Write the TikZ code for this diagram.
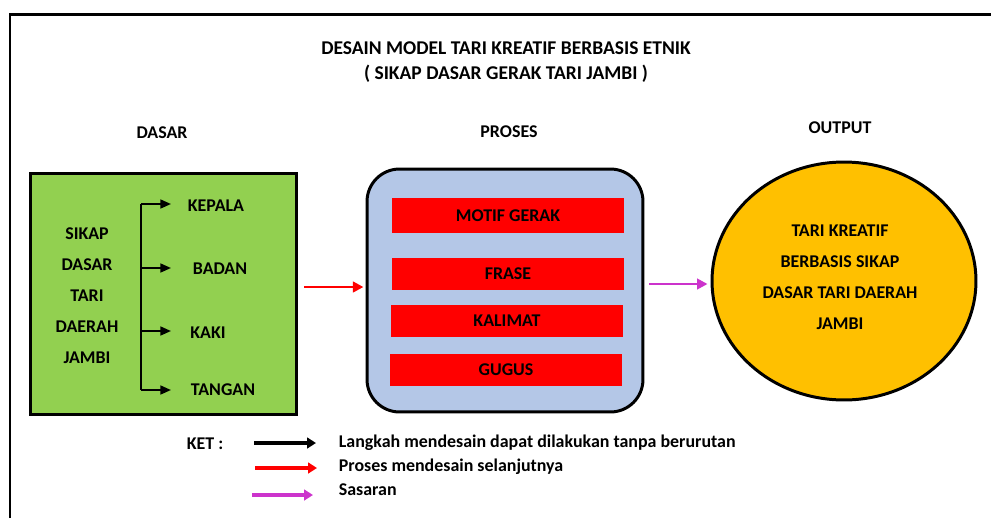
\documentclass[tikz,border=0pt]{standalone}
\usepackage{fontspec}
\setmainfont{Carlito}
\usetikzlibrary{arrows.meta, positioning, shapes.geometric}
\definecolor{hijau}{HTML}{92D050}
\definecolor{biru}{HTML}{B4C7E7}
\definecolor{emas}{HTML}{FFC000}
\definecolor{ungu}{HTML}{CC33CC}
\tikzset{every node/.append style={align=center, inner sep=2pt}}

\begin{document}
\begin{tikzpicture}[x=0.02cm, y=-0.02cm, font=\fontsize{10.2}{12}\selectfont\bfseries,
    box/.style={rectangle, draw=black, line width=1.7pt},
    bar/.style={rectangle, fill=red, minimum width=4.66cm, minimum height=0.64cm},
    baris/.style={font=\fontsize{10.2}{17.6}\selectfont\bfseries},
    hitam/.style={-{Triangle[length=6pt, width=5pt]}, line width=1.1pt, black},
    merah/.style={-{Triangle[length=6pt, width=6pt]}, line width=1.6pt, red},
    pink/.style={-{Triangle[length=6pt, width=6pt]}, line width=1.6pt, ungu}]
\useasboundingbox (0,0) rectangle (991,518);
% frame
\draw[line width=1.7pt] (10,518) -- (10,14.5) -- (991,14.5);

% title and column heads
\node[font=\fontsize{11.1}{13}\selectfont\bfseries] (judul) at (506,62) {DESAIN MODEL TARI KREATIF BERBASIS ETNIK\\[1.6pt]( SIKAP DASAR GERAK TARI JAMBI )};
\node (hdasar) at (162,133) {DASAR};
\node (hproses) at (509,132) {PROSES};
\node (houtput) at (840,128) {OUTPUT};

% dasar
\node[box, fill=hijau, minimum width=5.34cm, minimum height=4.84cm] (dasar) at (163.5,294) {};
\node[baris] (sikap) at (87,295.5) {SIKAP\\DASAR\\TARI\\DAERAH\\JAMBI};
\coordinate (s1) at (141,204);
\coordinate (s2) at (141,268);
\coordinate (s3) at (141,331);
\coordinate (s4) at (141,390);
\coordinate (t1) at (171,204);
\coordinate (t2) at (171,268);
\coordinate (t3) at (171,331);
\coordinate (t4) at (171,390);
\node (kepala) at (216,206) {KEPALA};
\node (badan) at (220,269) {BADAN};
\node (kaki) at (208,333) {KAKI};
\node (tangan) at (223,390) {TANGAN};
\draw[line width=1.1pt] (s1) -- (s4);
\foreach \i in {1,...,4}
  \draw[hitam] (s\i) -- (t\i);

% proses
\node[box, fill=biru, rounded corners=0.65cm, minimum width=5.52cm, minimum height=4.86cm] (proses) at (505,290.5) {};
\node[bar, minimum height=0.7cm] (motif) at (508,215.5) {MOTIF GERAK};
\node[bar] (frase) at (508,273.5) {FRASE};
\node[bar] (kalimat) at (507,320.5) {KALIMAT};
\node[bar] (gugus) at (506,369.5) {GUGUS};

% output
\node[ellipse, draw=black, line width=1.7pt, fill=emas, minimum width=5.28cm, minimum height=4.76cm, inner sep=0pt] (hasil) at (844,281) {};
\node[baris] (hasiltxt) at (840,277) {TARI KREATIF\\BERBASIS SIKAP\\DASAR TARI DAERAH\\JAMBI};

\draw[merah, shorten <=3.4pt, shorten >=1.2pt] (dasar.east |- 0,287) coordinate (m0) -- (proses.west |- m0);
\draw[pink, shorten <=2.8pt, shorten >=1.7pt] (proses.east |- 0,284) coordinate (p0) -- (hasil.west |- p0);

% keterangan
\node (ket) at (205,444) {KET :};
\coordinate (k1a) at (254,443);
\coordinate (k1b) at (316,443);
\coordinate (k2a) at (255,468);
\coordinate (k2b) at (317,468);
\coordinate (k3a) at (252,495);
\coordinate (k3b) at (313,495);
\draw[hitam, line width=2pt, -{Triangle[length=5pt, width=6pt]}] (k1a) -- (k1b);
\draw[merah, line width=2.4pt, -{Triangle[length=5pt, width=6pt]}] (k2a) -- (k2b);
\draw[pink, line width=2.4pt, -{Triangle[length=5pt, width=6pt]}] (k3a) -- (k3b);
\node[anchor=west] (ket1) at (335,443) {Langkah mendesain dapat dilakukan tanpa berurutan};
\node[anchor=west] (ket2) at (335,467) {Proses mendesain selanjutnya};
\node[anchor=west] (ket3) at (335,490) {Sasaran};
\end{tikzpicture}
\end{document}
